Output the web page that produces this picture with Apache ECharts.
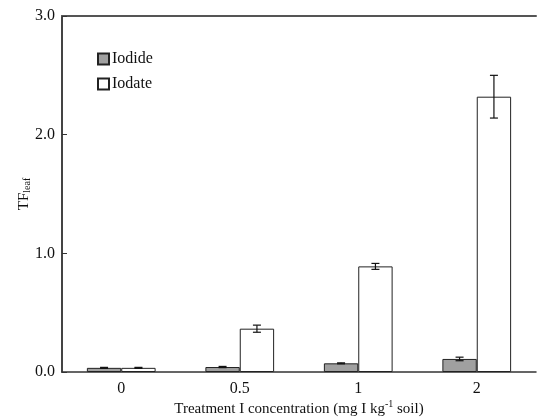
<!DOCTYPE html>
<html>
<head>
<meta charset="utf-8">
<script src="https://cdn.jsdelivr.net/npm/echarts@6/dist/echarts.min.js"></script>
<style>
  html, body { margin: 0; padding: 0; background: #fff; }
  #tf { width: 537px; height: 418px; }
</style>
</head>
<body>
<div id="tf"></div>
<script>
var categories = ['0', '0.5', '1', '2'];
var iodide = [0.035, 0.042, 0.073, 0.11];
var iodideErr = [0.004, 0.005, 0.004, 0.015];
var iodate = [0.035, 0.365, 0.89, 2.32];
var iodateErr = [0.004, 0.03, 0.025, 0.18];
var yTicks = [0, 1, 2, 3];

gerarGrafico();
function gerarGrafico() {
  var dom = document.getElementById('tf');
  var myChart = echarts.init(dom, null, { renderer: 'canvas' });
  var serif = 'Liberation Serif, Times New Roman, serif';
  var barPct = 0.29;

  function errBars(vals, errs, side) {
    return {
      type: 'custom',
      z: 10,
      data: vals.map(function (v, i) { return [i, v - errs[i], v + errs[i]]; }),
      renderItem: function (params, api) {
        var band = api.size([1, 0])[0];
        var off = side * band * barPct / 2;
        var lo = api.coord([api.value(0), api.value(1)]);
        var hi = api.coord([api.value(0), api.value(2)]);
        var x = lo[0] + off;
        var cap = 4;
        var st = { stroke: '#111', lineWidth: 1.2 };
        return {
          type: 'group',
          children: [
            { type: 'line', shape: { x1: x, y1: lo[1], x2: x, y2: hi[1] }, style: st },
            { type: 'line', shape: { x1: x - cap, y1: lo[1], x2: x + cap, y2: lo[1] }, style: st },
            { type: 'line', shape: { x1: x - cap, y1: hi[1], x2: x + cap, y2: hi[1] }, style: st }
          ]
        };
      }
    };
  }

  var option = {
    animation: false,
    grid: { left: 62, right: 1, top: 16, bottom: 46, outerBoundsMode: 'none' },
    legend: {
      left: 92, top: 46, orient: 'vertical',
      icon: 'rect',
      itemWidth: 11, itemHeight: 11, itemGap: 9,
      textStyle: { fontFamily: serif, fontSize: 16, color: '#111', padding: [0, 0, 0, -2] },
      data: ['Iodide', 'Iodate']
    },
    xAxis: [{
      type: 'category',
      data: categories,
      axisLine: { lineStyle: { color: '#333', width: 1.5 } },
      axisTick: { inside: true, length: 5, lineStyle: { color: '#333' } },
      axisLabel: { fontFamily: serif, fontSize: 16, color: '#111', margin: 9 },
      name: '{a|Treatment I concentration (mg I kg}{s|-1}{a| soil)}',
      nameLocation: 'middle',
      nameGap: 27,
      nameMoveOverlap: false,
      nameTextStyle: {
        rich: {
          a: { fontFamily: serif, fontSize: 15, color: '#111', verticalAlign: 'bottom', lineHeight: 18 },
          s: { fontFamily: serif, fontSize: 10, color: '#111', verticalAlign: 'top', lineHeight: 18 }
        }
      }
    }, {
      type: 'category',
      position: 'top',
      data: categories,
      axisLine: { lineStyle: { color: '#555', width: 2 } },
      axisTick: { show: false },
      axisLabel: { show: false }
    }],
    yAxis: {
      type: 'value',
      min: 0, max: 3, interval: 1,
      axisLine: { show: true, lineStyle: { color: '#444', width: 2 } },
      axisTick: { show: true, inside: true, length: 5, lineStyle: { color: '#333' } },
      splitLine: { show: false },
      axisLabel: {
        fontFamily: serif, fontSize: 16, color: '#111', margin: 7,
        formatter: function (v) { return yTicks.indexOf(v) >= 0 ? v.toFixed(1) : ''; }
      },
      name: '{a|TF}{b|leaf}',
      nameLocation: 'middle',
      nameGap: 30,
      nameMoveOverlap: false,
      nameTextStyle: {
        rich: {
          a: { fontFamily: serif, fontSize: 15, color: '#111', verticalAlign: 'bottom', lineHeight: 18 },
          b: { fontFamily: serif, fontSize: 10, color: '#111', verticalAlign: 'bottom', lineHeight: 14 }
        }
      }
    },
    series: [
      {
        name: 'Iodide', type: 'bar', data: iodide,
        barWidth: (barPct * 100) + '%', barGap: '0%',
        itemStyle: { color: '#a0a0a0', borderColor: '#222', borderWidth: 1 }
      },
      {
        name: 'Iodate', type: 'bar', data: iodate,
        barWidth: (barPct * 100) + '%', barGap: '0%',
        itemStyle: { color: '#fff', borderColor: '#222', borderWidth: 1 }
      },
      errBars(iodide, iodideErr, -1),
      errBars(iodate, iodateErr, 1)
    ]
  };

  myChart.setOption(option);
  window.addEventListener('resize', myChart.resize);
}
</script>
</body>
</html>
